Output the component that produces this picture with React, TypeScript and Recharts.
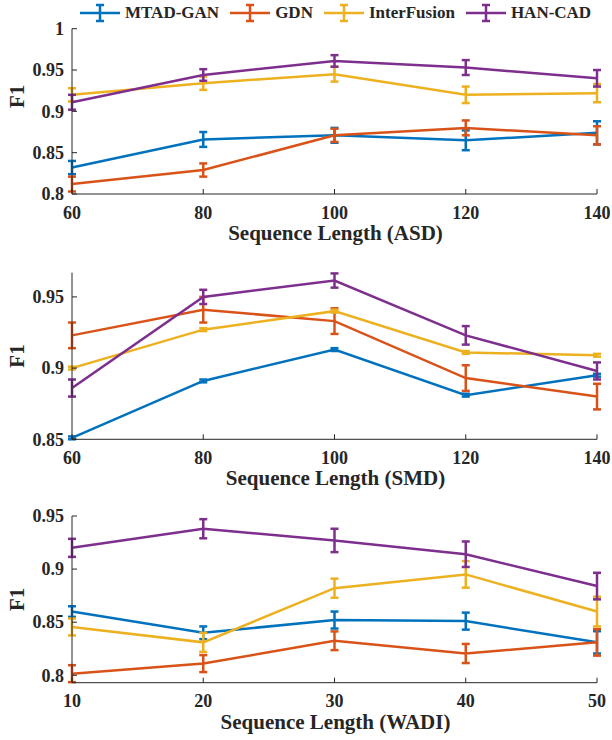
import { LineChart, Line, XAxis, YAxis, ErrorBar } from 'recharts'

const FONT = '"Liberation Serif", "Times New Roman", Times, serif'
const INK = '#262626'

const SERIES = [
  { key: 'mtad', name: 'MTAD-GAN', color: '#0072BD' },
  { key: 'gdn', name: 'GDN', color: '#D95319' },
  { key: 'inter', name: 'InterFusion', color: '#EDB120' },
  { key: 'han', name: 'HAN-CAD', color: '#7E2F8E' },
]

// ASD
const asdLen = [60, 80, 100, 120, 140]
const asdMtad = [0.832, 0.866, 0.871, 0.865, 0.874]
const asdMtadErr = [0.008, 0.009, 0.009, 0.012, 0.014]
const asdGdn = [0.812, 0.829, 0.871, 0.88, 0.871]
const asdGdnErr = [0.009, 0.008, 0.008, 0.009, 0.011]
const asdInter = [0.92, 0.934, 0.945, 0.92, 0.922]
const asdInterErr = [0.008, 0.008, 0.009, 0.01, 0.011]
const asdHan = [0.911, 0.944, 0.961, 0.953, 0.94]
const asdHanErr = [0.009, 0.007, 0.007, 0.009, 0.01]

// SMD
const smdLen = [60, 80, 100, 120, 140]
const smdMtad = [0.851, 0.891, 0.913, 0.881, 0.895]
const smdMtadErr = [0.001, 0.001, 0.001, 0.001, 0.001]
const smdGdn = [0.923, 0.941, 0.933, 0.893, 0.88]
const smdGdnErr = [0.009, 0.009, 0.009, 0.009, 0.009]
const smdInter = [0.9, 0.927, 0.94, 0.911, 0.909]
const smdInterErr = [0.001, 0.001, 0.001, 0.001, 0.001]
const smdHan = [0.886, 0.95, 0.9615, 0.923, 0.898]
const smdHanErr = [0.006, 0.005, 0.005, 0.0065, 0.006]

// WADI
const wadiLen = [10, 20, 30, 40, 50]
const wadiMtad = [0.86, 0.84, 0.852, 0.851, 0.831]
const wadiMtadErr = [0.005, 0.006, 0.008, 0.008, 0.0105]
const wadiGdn = [0.8015, 0.811, 0.8325, 0.8205, 0.831]
const wadiGdnErr = [0.008, 0.008, 0.0088, 0.009, 0.0125]
const wadiInter = [0.8455, 0.831, 0.882, 0.895, 0.86]
const wadiInterErr = [0.008, 0.009, 0.009, 0.0125, 0.014]
const wadiHan = [0.92, 0.938, 0.927, 0.914, 0.884]
const wadiHanErr = [0.0085, 0.009, 0.011, 0.012, 0.0125]

const makeRows = (xs: number[], m: number[], me: number[], g: number[], ge: number[], i: number[], ie: number[], h: number[], he: number[]) =>
  xs.map((x, k) => ({
    x,
    mtad: m[k], mtadErr: me[k],
    gdn: g[k], gdnErr: ge[k],
    inter: i[k], interErr: ie[k],
    han: h[k], hanErr: he[k],
  }))

const panels = [
  {
    rows: makeRows(asdLen, asdMtad, asdMtadErr, asdGdn, asdGdnErr, asdInter, asdInterErr, asdHan, asdHanErr),
    xs: asdLen, xLabel: 'Sequence Length (ASD)',
    yDomain: [0.8, 1], yTicks: [0.8, 0.85, 0.9, 0.95, 1],
    top: 0, mt: 28.7, plotH: 165.3, f1Shift: -15,
  },
  {
    rows: makeRows(smdLen, smdMtad, smdMtadErr, smdGdn, smdGdnErr, smdInter, smdInterErr, smdHan, smdHanErr),
    xs: smdLen, xLabel: 'Sequence Length (SMD)',
    yDomain: [0.85, 0.967], yTicks: [0.85, 0.9, 0.95],
    top: 244, mt: 28.7, plotH: 166.6, f1Shift: 0,
  },
  {
    rows: makeRows(wadiLen, wadiMtad, wadiMtadErr, wadiGdn, wadiGdnErr, wadiInter, wadiInterErr, wadiHan, wadiHanErr),
    xs: wadiLen, xLabel: 'Sequence Length (WADI)',
    yDomain: [0.793, 0.95], yTicks: [0.8, 0.85, 0.9, 0.95],
    top: 487, mt: 29, plotH: 166.7, f1Shift: 0,
  },
]

const H = 250

function BottomTick(props: any) {
  const { x, y, payload } = props
  return (
    <g>
      <line x1={x} y1={y} x2={x} y2={y - 5} stroke={INK} />
      <text x={x} y={y + 24.5} textAnchor="middle" fontSize={18} fontWeight="bold" fontFamily={FONT} fill={INK}>
        {payload.value}
      </text>
    </g>
  )
}

function TopTick(props: any) {
  const { x, y } = props
  return <line x1={x} y1={y} x2={x} y2={y + 5} stroke={INK} />
}

function LeftTick(props: any) {
  const { x, y, payload } = props
  return (
    <g>
      <line x1={x} y1={y} x2={x + 5} y2={y} stroke={INK} />
      <text x={x - 8} y={y} dy="0.35em" textAnchor="end" fontSize={18} fontWeight="bold" fontFamily={FONT} fill={INK}>
        {String(payload.value)}
      </text>
    </g>
  )
}

function RightTick(props: any) {
  const { x, y } = props
  return <line x1={x} y1={y} x2={x - 5} y2={y} stroke={INK} />
}

function XTitle(props: any) {
  const vb = props.viewBox
  return (
    <text x={vb.x + vb.width / 2 + 1} y={vb.y + 46} textAnchor="middle" fontSize={21} fontWeight="bold" fontFamily={FONT} fill={INK}>
      {props.text}
    </text>
  )
}

function YTitle(props: any) {
  const vb = props.viewBox
  const cy = vb.y + vb.height / 2 + (props.shift || 0)
  return (
    <text x={24} y={cy} transform={`rotate(-90, 24, ${cy})`} textAnchor="middle" fontSize={21} fontWeight="bold" fontFamily={FONT} fill={INK}>
      F1
    </text>
  )
}

function Panel({ p }: { p: (typeof panels)[number] }) {
  const xDomain = [p.xs[0], p.xs[p.xs.length - 1]]
  return (
    <div style={{ position: 'absolute', left: 0, top: p.top }}>
      <LineChart width={612} height={H} data={p.rows} margin={{ top: p.mt, right: 15, bottom: 0, left: 0 }}>
        <XAxis
          xAxisId="b" dataKey="x" type="number" domain={xDomain} ticks={p.xs} interval={0}
          height={H - p.mt - p.plotH} tickSize={0} tickMargin={0} tickLine={false}
          axisLine={{ stroke: INK }} tick={(t: any) => <BottomTick {...t} />}
          label={<XTitle text={p.xLabel} />}
        />
        <XAxis
          xAxisId="t" orientation="top" dataKey="x" type="number" domain={xDomain} ticks={p.xs} interval={0}
          height={0} tickSize={0} tickMargin={0} tickLine={false}
          axisLine={{ stroke: INK }} tick={(t: any) => <TopTick {...t} />}
        />
        <YAxis
          yAxisId="l" type="number" domain={p.yDomain} ticks={p.yTicks} interval={0}
          width={72} tickSize={0} tickMargin={0} tickLine={false}
          axisLine={{ stroke: INK }} tick={(t: any) => <LeftTick {...t} />}
          label={<YTitle shift={p.f1Shift} />}
        />
        <YAxis
          yAxisId="r" orientation="right" type="number" domain={p.yDomain} ticks={p.yTicks} interval={0}
          width={0} tickSize={0} tickMargin={0} tickLine={false}
          axisLine={{ stroke: INK }} tick={(t: any) => <RightTick {...t} />}
        />
        {SERIES.map((s) => (
          <Line
            key={s.key} xAxisId="b" yAxisId="l" type="linear" dataKey={s.key}
            stroke={s.color} strokeWidth={2.5} dot={false} activeDot={false} isAnimationActive={false}
          >
            <ErrorBar dataKey={`${s.key}Err`} direction="y" width={4} stroke={s.color} strokeWidth={2.5} isAnimationActive={false} />
          </Line>
        ))}
      </LineChart>
    </div>
  )
}

function LegendIcon({ color }: { color: string }) {
  return (
    <svg width={40} height={26} style={{ display: 'block' }}>
      <line x1={0} y1={13} x2={40} y2={13} stroke={color} strokeWidth={2.5} />
      <line x1={20} y1={5} x2={20} y2={21} stroke={color} strokeWidth={2.5} />
      <line x1={16} y1={5} x2={24} y2={5} stroke={color} strokeWidth={2.5} />
      <line x1={16} y1={21} x2={24} y2={21} stroke={color} strokeWidth={2.5} />
    </svg>
  )
}

export default function App() {
  return (
    <div style={{ position: 'absolute', left: 0, top: 0, width: 612, height: 740, background: '#fff', overflow: 'hidden' }}>
      {panels.map((p, i) => (
        <Panel key={i} p={p} />
      ))}
      <div
        style={{
          position: 'absolute', left: 80, top: 0, height: 26, display: 'flex', alignItems: 'center',
          fontFamily: FONT, fontWeight: 'bold', fontSize: 17, color: INK, whiteSpace: 'nowrap',
        }}
      >
        {SERIES.map((s) => (
          <div key={s.key} style={{ display: 'flex', alignItems: 'center', marginRight: 11 }}>
            <LegendIcon color={s.color} />
            <span style={{ marginLeft: 5, lineHeight: '26px' }}>{s.name}</span>
          </div>
        ))}
      </div>
    </div>
  )
}
